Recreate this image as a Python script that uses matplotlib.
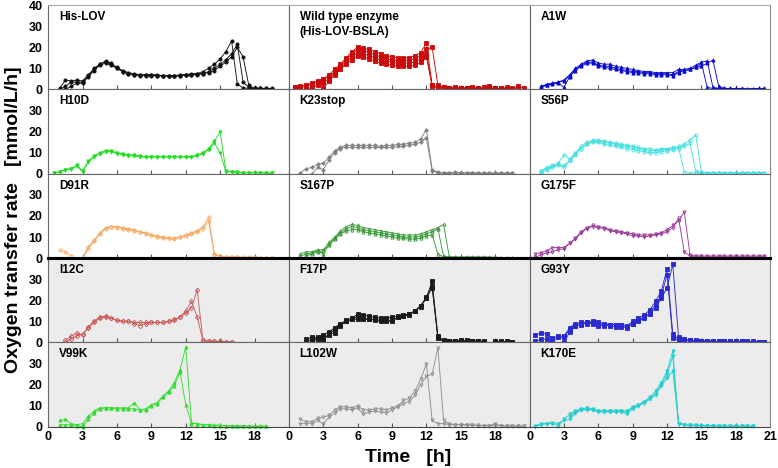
import numpy as np
import matplotlib
matplotlib.use("Agg")
import matplotlib.pyplot as plt

plt.rcParams['font.family'] = ['Liberation Sans', 'DejaVu Sans']
plt.rcParams['font.weight'] = 'bold'

_ = None

# sampling times [h], one value every half hour
TIME = [0.5, 1.0, 1.5, 2.0, 2.5, 3.0, 3.5, 4.0, 4.5, 5.0,
        5.5, 6.0, 6.5, 7.0, 7.5, 8.0, 8.5, 9.0, 9.5, 10.0,
        10.5, 11.0, 11.5, 12.0, 12.5, 13.0, 13.5, 14.0, 14.5, 15.0,
        15.5, 16.0, 16.5, 17.0, 17.5, 18.0, 18.5, 19.0, 19.5, 20.0,
        20.5]

# oxygen transfer rate [mmol/L/h], replicates per variant
HIS_LOV_1 = [_, 0.5, 4.5, 4, 4.5, 4, 7, 10, 12, 13.5,
             12.5, 10, 8.5, 7.5, 7, 7, 7, 7, 7, 6.5,
             6.5, 6.5, 7, 7, 7.5, 7.5, 8.5, 10, 12, 14.5,
             18, 23, 2.5, 0.8, 0.5, 0.5, 0.5, 0.5, 0.3]
HIS_LOV_2 = [_, 0, 1.5, 3.5, 3.5, 3.5, 6.5, 9.5, 12, 13,
             12, 10.5, 9, 8, 7.5, 7, 7, 7, 6.5, 6.5,
             6.5, 6.5, 6.5, 7, 7, 7.5, 7.5, 8.5, 10, 12,
             14, 17, 21.5, 3.5, 1, 0.5, 0.5, 0.5, 0.5]
HIS_LOV_3 = [_, _, 0, 1.5, 3, 3, 6, 9, 11.5, 12.5,
             11.5, 10, 8.5, 7.5, 7, 6.5, 6.5, 6.5, 6.5, 6.5,
             6.5, 6.5, 6.5, 7, 7, 7, 7.5, 8, 9, 11,
             13, 15.5, 20, 15.5, 2, 0.5, 0.5, 0.3, 0.3]

WT_1 = [1, 1.5, 2, 3, 4, 5, 7, 9.5, 12, 15,
        18, 20, 19.5, 19, 18, 17, 16, 15.5, 15, 15,
        15, 16, 17.5, 22, 2, 1, 1, 0.8, 1, 0.8,
        0.8, 1, 0.8, 1, 1.5, 0.8, 0.5, 1, 0.5, 1.5, 0.5]
WT_2 = [1, 1, 1.5, 2.5, 3.5, 4.5, 6, 8.5, 11, 14,
        17, 19, 18.5, 17.5, 16.5, 15.5, 14.5, 14, 13.5, 13.5,
        14, 14.5, 16, 19, 20, 2, 1, 0.8, 0.8, 0.5,
        0.5, 0.5, 0.8, 0.5, 0.5, 0.5, 0.5, 0.3, 0.3, 0.3]
WT_3 = [_, _, 0, 1, 2, 3, 5, 8, 10, 13,
        15.5, 17.5, 17, 16, 15, 14, 13.5, 13, 12.5, 12.5,
        12.5, 13, 14.5, 17, 2, 1, 0.8, 0.5, 0.5, 0.5,
        0.5, 0.5, 0.5, 0.5, 0.5, 0.5, 0.3, 0.3, 0.3]
WT_4 = [_, _, _, _, _, 0.5, 4, 7, 9.5, 12,
        14, 16, 15.5, 14.5, 13.5, 12.5, 12, 11.5, 11, 11,
        11, 11.5, 13, 15.5, 1.5, 0.8, 0.5, 0.5, 0.5, 0.5,
        0.5, 0.5, 0.5, 0.5, 0.5]

A1W_1 = [_, 1.5, 2.5, 3, 3.5, 4.5, 7, 10, 12, 13.5,
         14, 12.5, 12, 12, 11, 10.5, 10, 9.5, 9, 8.5,
         8.5, 8, 8, 8, 8, 9.5, 9.5, 10, 11.5, 13,
         13.5, 1, 0.5, 0.5, 0.5, 0.3, 0.3, 0.3, 0.3, 0.5, 0.5]
A1W_2 = [_, 1, 2, 2.5, 3, 1, 6, 9, 11, 12.5,
         12.5, 11, 10.5, 10, 9.5, 9, 8.5, 8, 8, 7.5,
         7.5, 7, 7, 7, 6.5, 8, 9, 9.5, 10.5, 12.5,
         1, 0.5, 0.5, 0.5, 0.3, 0.3, 0.3, 0.3, 0.3, 0.3]
A1W_3 = [_, 1.5, 2, 3, 3.5, 4, 6.5, 9.5, 11.5, 13,
         13, 11.5, 11, 11, 10, 9.5, 9, 8.5, 8.5, 8,
         8, 7.5, 7.5, 7.5, 7, 8.5, 9, 9.5, 10.5, 11,
         12.5, 14, 1.5, 0.5, 0.5, 0.5, 0.5, 0.3, 0.3, 0.5, 0.5]

H10D_1 = [0.3, 1, 2, 2.5, 4, 1.5, 6, 8.5, 10, 11,
          11, 10, 9.5, 9, 9, 8.5, 8, 8, 8, 8,
          8, 8, 8, 8, 8, 9, 10, 12, 15.5, 20,
          1.5, 1, 0.8, 0.5, 0.5, 0.5, 0.5, 0.5, 0.3]
H10D_2 = [0.3, 0.8, 1.8, 2.3, 3.5, 1, 5.5, 8, 9.5, 10.5,
          10.5, 9.5, 9, 8.5, 8.5, 8, 8, 8, 8, 8,
          8, 8, 8, 8, 8, 8.5, 9.5, 11.5, 14.5, 10,
          1, 0.8, 0.5, 0.5, 0.5, 0.5, 0.5, 0.3, 0.3]

K23STOP_1 = [_, 0.5, 2.5, 3, 4.5, 5, 8, 11, 12.5, 13.5,
             13.5, 13.5, 13.5, 13.5, 13.5, 13, 13.5, 13.5, 14, 14,
             14.5, 15, 16.5, 21, 2, 0.8, 0.5, 0.5, 0.8, 0.5,
             0.5, 0.5, 0.5, 0.3, 0.3, 0.3, 0.3, 0.3, 0.3]
K23STOP_2 = [_, _, _, 0, 3, 2, 6.5, 10, 12, 12.5,
             12.5, 12.5, 12.5, 12.5, 12.5, 12.5, 12.5, 12.5, 13, 13,
             13.5, 14, 15, 17, 1.5, 0.5, 0.5, 0.5, 0.5, 0.5,
             0.5, 0.5, 0.3, 0.3, 0.3, 0.3, 0.3, 0.3, 0.3]

S56P_1 = [_, 1.5, 3, 4, 5, 9, 7, 10, 13, 15,
          16, 16, 15.5, 15, 14.5, 14, 13.5, 13, 12.5, 12,
          12, 11.5, 12, 12, 12.5, 13, 14, 16, 18.5, 1,
          0.5, 0.5, 0.5, 0.5, 0.5, 0.5, 0.5, 0.5, 0.5, 0.5, 0.5]
S56P_2 = [_, 0.5, 2, 3, 4, 3, 6.5, 9.5, 12, 14,
          15, 15, 14, 13.5, 13, 12.5, 12, 11.5, 11, 10.5,
          10, 10, 10.5, 11, 11.5, 12, 13, 14.5, 1.5, 0.5,
          0.5, 0.5, 0.5, 0.5, 0.5, 0.5, 0.5, 0.5, 0.5, 0.5]
S56P_3 = [_, 1, 2.5, 3.5, 4.5, 4, 6, 9, 12, 14,
          15.5, 15.5, 15, 14.5, 14, 13.5, 13, 12.5, 12, 11.5,
          11, 11, 11.5, 11.5, 12, 12.5, 1, 0.3, 0.5, 0.5,
          0.5, 0.5, 0.5, 0.5, 0.5, 0.5, 0.5, 0.5, 0.5, 0.5, 0.5]

D91R_1 = [_, 4, 3, 1, _, 0, 5.5, 8.5, 12, 14.5,
          15, 15, 14.5, 14, 13.5, 12.5, 12, 11, 10.5, 10,
          9.5, 9.5, 10, 11, 12, 13, 15, 19.5, 2, 1,
          0.5, 0.5, 0.5, 0.5, 0.5, 0.5, 0.3, 0.3, 0.3]
D91R_2 = [_, _, _, _, _, 0, 4.5, 8, 11.5, 14,
          15, 14.5, 14, 13.5, 13, 12.5, 11.5, 11, 10, 9.5,
          9.5, 9, 10, 10.5, 11.5, 12.5, 14, 17.5, 1.5, 0.8,
          0.5, 0.5, 0.5, 0.3, 0.3, 0.3, 0.3, 0.3, 0.3]

S167P_1 = [_, 2, 3, 3, 4, 4, 7.5, 10, 13, 15,
           16, 15.5, 14.5, 14, 13.5, 13, 12.5, 12, 11.5, 11,
           11, 11, 11.5, 12.5, 13.5, 14.5, 16, 0.5, 0.5, 0.5,
           0.5, 0.5, 0.5, 0.5, 0.5, 0.5, 0.3, 0.3, 0.3]
S167P_2 = [_, 1, 2, 2.5, 3.5, 2, 6.5, 9.5, 12, 14,
           15, 14.5, 13.5, 13, 12.5, 12, 11.5, 11, 10.5, 10,
           10, 10, 10.5, 11.5, 12.5, 14, 1, 0.5, 0.5, 0.5,
           0.5, 0.5, 0.5, 0.5, 0.3, 0.3, 0.3, 0.3, 0.3]
S167P_3 = [_, _, 1, 2, 3, 3.5, 6, 9, 11.5, 13,
           13.5, 13.5, 12.5, 12, 11.5, 11, 10.5, 10, 9.5, 9.5,
           9, 9, 9.5, 10.5, 11, 2, 0.5, 0.5, 0.3, 0.3,
           0.3, 0.3, 0.3, 0.3, 0.3, 0.3, 0.3, 0.3, 0.3]

G175F_1 = [2, 2.5, 3.5, 5, 5, 5, 7, 9.5, 12.5, 14.5,
           15.5, 15, 14.5, 13.5, 13, 12.5, 12, 11.5, 11, 11,
           11, 11.5, 12, 13.5, 15.5, 17.5, 22, 1.5, 1, 1,
           1, 1, 1, 1, 1, 1, 1, 1, 1, 1, 1]
G175F_2 = [0.5, 1.5, 2.5, 3, 4, 4.5, 7, 9, 12, 14,
           15, 14.5, 14, 13, 12.5, 12, 11.5, 10.5, 10.5, 10,
           10.5, 11, 11.5, 12.5, 14.5, 19, 3, 1, 0.5, 0.5,
           0.5, 0.5, 0.5, 0.5, 0.5, 0.5, 0.5, 0.5, 0.5, 0.5, 0.5]

I12C_1 = [_, _, 1, 3, 4.5, 3.5, 7.5, 10, 12, 12.5,
          11.5, 10.5, 10, 10, 9.5, 9.5, 9.5, 9.5, 9.5, 9.5,
          10, 11, 12, 14, 16.5, 25, 1, 0.8, 0.5, 0.5,
          0.3, 0.3]
I12C_2 = [_, _, 0, 1.5, 3, 4, 7, 9.5, 11.5, 12,
          11.5, 10.5, 10, 10, 9, 8, 9, 9.5, 9.5, 9.5,
          10, 10.5, 12, 15, 19.5, 12, 1, 0.5, 0.5, 0.5,
          0.3, 0.3]

F17P_1 = [_, _, 1.5, 2.5, 2.5, 3.5, 5, 7, 9, 10.5,
          11.5, 13.5, 13, 12.5, 12, 11.5, 11.5, 12, 12.5, 13,
          13.5, 15, 17.5, 21.5, 29, 3, 1, 0.8, 0.8, 1,
          1, 0.8, 0.8, 0.5, _, 0.5, 0.5, 0.5, 0.3]
F17P_2 = [_, _, 0.3, 1.5, 2, 1, 4, 4.5, 8, 10,
          11, 12.5, 11.5, 11, 11, 10.5, 10.5, 10.5, 12, 12.5,
          13.5, 15, 17.5, 21, 26, 2.5, 0.5, 0.5, 0.5, 0.5,
          0.5, 0.5, 0.5, 0.3, _, 0.3, 0.3, 0.3, 0.3]
F17P_3 = [_, _, _, 0.5, 1.5, 2.5, 3.5, 6.5, 8.5, 10,
          11, 11, 11, 11, 10.5, 10, 10, 10, 12, 12.5,
          13, 15, 17, 21, 27, 2, 0.5, 0.5, 0.5, 0.5,
          0.5, 0.5, 0.3, 0.3]

G93Y_1 = [3.5, 4.5, 4, 2, 3, 3, 7, 9, 9.5, 9.5,
          10, 9.5, 9, 8.5, 8.5, 8.5, 8, 10, 11.5, 13,
          15.5, 19.5, 24.5, 35, 4, 1.5, 1, 1, 0.8, 0.8,
          0.8, 0.5, 0.5, 0.5, 0.5, 0.5, 0.5, 0.3, 0.3, 0.3, 0.3]
G93Y_2 = [0.5, 1.5, 1.5, 0.3, 2.5, 2.5, 6, 8, 8.5, 9,
          9, 8, 8, 8, 7.5, 7.5, 7, 9, 10.5, 12,
          14, 18, 22.5, 32, 2, 1, 1, 0.8, 0.5, 0.5,
          0.5, 0.5, 0.5, 0.5, 0.3, 0.3, 0.3, 0.3, 0.3, 0.3]
G93Y_3 = [_, _, _, _, _, 0, 5, 8, 9, 9.5,
          9.5, 9, 8.5, 8.5, 8.5, 8.5, 7.5, 9, 10, 11.5,
          13.5, 16.5, 21, 26, 37, 2.5, 1.5, 1, 1, 0.8,
          0.8, 0.5, 0.5, 0.5, 0.5, 0.5, 0.5, 0.5, 0.5, 0.3, 0.3]

V99K_1 = [_, 3, 3.5, 1.5, 1, 1.5, 5, 7.5, 9, 9,
          9, 9, 9, 9, 11.5, 8, 8.5, 10.5, 11.5, 14.5,
          17, 21, 27, 38, 2, 1.5, 1, 1, 0.8, 0.8,
          0.5, 0.5, 0.5, 0.5, 0.3, 0.3, 0.3, 0.3]
V99K_2 = [_, 1, 1, 1, 0.5, 0, 3.5, 6.5, 8.5, 9,
          9, 8.5, 8.5, 8.5, 8.5, 8, 8, 10, 11, 14,
          16.5, 19.5, 26, 10.5, 1.5, 1.5, 1, 0.8, 0.5, 0.5,
          0.5, 0.3, 0.3, 0.3, 0.3, 0.3, 0.3, 0.3]

L102W_1 = [_, 3.5, 2.5, 2.5, 4, 4.5, 5.5, 8, 9.5, 9.5,
           9, 10, 8, 8, 8.5, 8.5, 8, 9, 10, 12.5,
           13.5, 17, 22.5, 30, 3, 1.5, 1.5, 1, 1, 1,
           0.8, 0.8, 0.5, 0.5, 0.5, 1.5, 0.5, 0.5, 0.3, 0.3, 0.3]
L102W_2 = [_, 1.5, 1.5, 1.5, 3, 1.5, 4.5, 6.5, 8.5, 8.5,
           8, 9, 6, 7, 7.5, 7, 6.5, 8, 9.5, 11,
           12, 15, 20, 24, 25, 37.5, 3, 1.5, 1, 1,
           1, 0.8, 0.8, 0.5, 0.5, 0.5, 0.5, 0.3, 0.3, 0.3, 0.3]

K170E_1 = [0.5, 1.5, 1.5, 2, 1.5, 3.5, 6, 7.5, 8.5, 9,
           8.5, 7.5, 7.5, 7.5, 7.5, 7.5, 7.5, 9.5, 10.5, 12,
           14, 17, 21, 26.5, 36, 1.5, 1, 0.8, 0.8, 0.5,
           0.5, 0.5, 0.5, 0.5, 0.3, 0.3, 0.3, 0.3, 0.3]
K170E_2 = [0, 1, 1.5, 1.5, 0.5, 3, 3.5, 6.5, 8, 8,
           8, 7, 7, 7, 7, 7, 6, 8.5, 10, 11.5,
           13, 15, 19.5, 23, 26.5, 1.5, 1, 0.8, 0.5, 0.5,
           0.5, 0.5, 0.3, 0.3, 0.3, 0.3, 0.3, 0.3, 0.3]
K170E_3 = [_, _, _, _, _, _, 4.5, 7, 8, 8.5,
           8, 7.5, 7.5, 7.5, 7.5, 7.5, 7, 9, 10, 11.5,
           13.5, 15.5, 20, 25, 33.5, 1.5, 1, 0.5, 0.5, 0.5,
           0.5, 0.3]

NAMES = ["His-LOV", "Wild type enzyme\n(His-LOV-BSLA)", "A1W",
         "H10D", "K23stop", "S56P",
         "D91R", "S167P", "G175F",
         "I12C", "F17P", "G93Y",
         "V99K", "L102W", "K170E"]
SERIES = [[HIS_LOV_1, HIS_LOV_2, HIS_LOV_3], [WT_1, WT_2, WT_3, WT_4], [A1W_1, A1W_2, A1W_3],
          [H10D_1, H10D_2], [K23STOP_1, K23STOP_2], [S56P_1, S56P_2, S56P_3],
          [D91R_1, D91R_2], [S167P_1, S167P_2, S167P_3], [G175F_1, G175F_2],
          [I12C_1, I12C_2], [F17P_1, F17P_2, F17P_3], [G93Y_1, G93Y_2, G93Y_3],
          [V99K_1, V99K_2], [L102W_1, L102W_2], [K170E_1, K170E_2, K170E_3]]

COLORS = ["#111111", "#cc0a0a", "#0a0ad0",
          "#22dd22", "#808080", "#44e0e0",
          "#f5a860", "#3a9a3a", "#9a3a9a",
          "#cc5a5a", "#1a1a1a", "#2a2ad0",
          "#33dd33", "#909090", "#22d0d0"]
MARKERS = ["o", "s", "^",
           "v", "P", "o",
           "o", "^", "v",
           "D", "s", "s",
           "^", "v", "v"]
FILLED = [True, True, True,
          True, True, False,
          False, False, False,
          False, True, True,
          True, False, True]

fig = plt.figure(figsize=(7.78, 4.68), dpi=100)
gs = fig.add_gridspec(5, 3, left=0.062, right=0.99, top=0.989, bottom=0.088,
                      hspace=0, wspace=0)

t = np.array(TIME)
for i, name in enumerate(NAMES):
    r, c = divmod(i, 3)
    ax = fig.add_subplot(gs[r, c])
    if r >= 3:
        ax.set_facecolor("#ececec")
    col = COLORS[i]
    for vals in SERIES[i]:
        y = np.array([np.nan if v is None else v for v in vals], dtype=float)
        ax.plot(t[:len(y)], y, color=col, lw=0.65, marker=MARKERS[i], ms=2.3,
                mfc=col if FILLED[i] else "none", mec=col, mew=0.6, clip_on=False)
    ax.set_xlim(0, 21)
    ax.set_ylim(0, 40)
    ax.text(0.045, 0.93, name, transform=ax.transAxes, ha="left", va="top",
            fontsize=8.5, fontweight="bold", linespacing=1.3)

    ax.set_xticks([0, 3, 6, 9, 12, 15, 18, 21] if c == 2 else [0, 3, 6, 9, 12, 15, 18])
    ax.tick_params(axis="x", direction="in", length=3, width=0.8, color="#555555",
                   labelsize=9, pad=3)
    if r < 4:
        ax.tick_params(axis="x", labelbottom=False)
    if c == 0:
        ax.set_yticks([0, 10, 20, 30, 40] if r == 0 else [0, 10, 20, 30])
        ax.tick_params(axis="y", length=0, labelsize=9, pad=4)
    else:
        ax.set_yticks([])
    for lab in ax.get_xticklabels() + ax.get_yticklabels():
        lab.set_fontweight("bold")

    for s in ax.spines.values():
        s.set_color("#666666")
        s.set_linewidth(0.8)
    ax.spines["bottom"].set_color("#444444")
    if r == 0:
        ax.spines["top"].set_color("#aaaaaa")
    if c == 2:
        ax.spines["right"].set_color("#888888")
    if r == 2:
        ax.spines["bottom"].set_color("black")
        ax.spines["bottom"].set_linewidth(2.2)
    if r == 3:
        ax.spines["top"].set_color("black")
        ax.spines["top"].set_linewidth(2.2)

fig.text(0.017, 0.53, "Oxygen transfer rate   [mmol/L/h]", rotation=90,
         ha="center", va="center", fontsize=14, fontweight="bold")
fig.text(0.525, 0.022, "Time   [h]", ha="center", va="center",
         fontsize=14, fontweight="bold")

plt.savefig("out.png", dpi=100)
plt.close()
